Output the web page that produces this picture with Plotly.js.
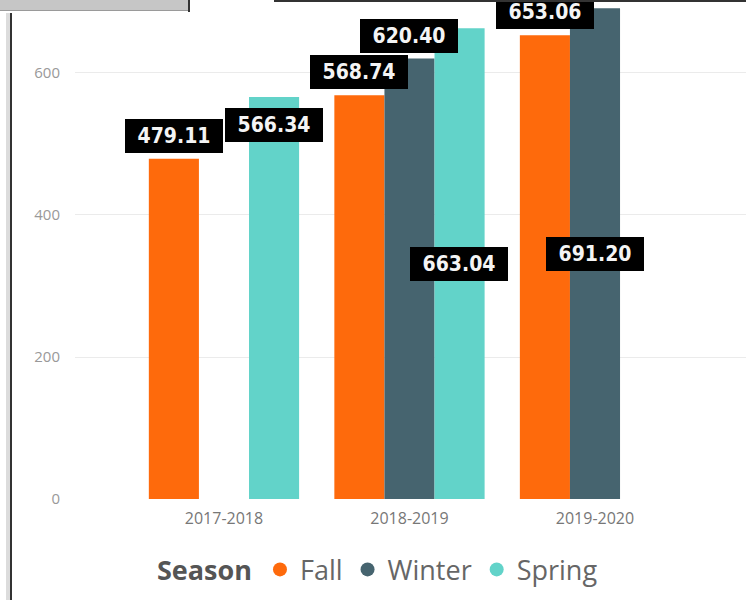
<!DOCTYPE html>
<html>
<head>
<meta charset="utf-8">
<script src="https://cdn.plot.ly/plotly-3.0.1.min.js"></script>
<style>
  html, body { margin: 0; padding: 0; background: #fff; }
  #wrap { position: relative; width: 746px; height: 600px; overflow: hidden; }
  #chart { position: absolute; left: 0; top: 0; width: 746px; height: 600px; }
  .frame { position: absolute; z-index: 10; }
</style>
</head>
<body>
<div id="wrap">
  <div id="chart"></div>
  <div class="frame" style="left:0;top:0;width:189px;height:10px;background:#c6c6c6;border-bottom:1px solid #9a9a9a;"></div>
  <div class="frame" style="left:188px;top:0;width:2px;height:12px;background:#333;"></div>
  <div class="frame" style="left:274px;top:0;width:472px;height:2px;background:#333;"></div>
  <div class="frame" style="left:6px;top:13px;width:4px;height:587px;background:#dcdcdc;"></div>
  <div class="frame" style="left:10px;top:13px;width:2px;height:587px;background:#333;"></div>
</div>
<script>
// ---- data ----
const categories = ['2017-2018', '2018-2019', '2019-2020'];
const seriesNames = ['Fall', 'Winter', 'Spring'];
const fallValues = [479.11, 568.74, 653.06];
const winterValues = [null, 620.40, 691.20];
const springValues = [566.34, 663.04, null];
const yTickValues = [0, 200, 400, 600];

// ---- styling ----
const colors = ['#FE6A0C', '#46646F', '#62D3C9'];
const seriesValues = [fallValues, winterValues, springValues];
// where Power BI placed each data label (per series, per category)
const labelPlacement = [
  ['outside', 'outside', 'outside'],
  [null, 'outside', 'center'],
  ['insideEnd', 'center', null]
];
const barPx = 50;

const traces = [];
seriesValues.forEach((vals, i) => {
  traces.push({
    type: 'bar',
    x: categories,
    y: vals,
    name: seriesNames[i],
    marker: { color: colors[i] },
    showlegend: false,
    hoverinfo: 'skip'
  });
});
// legend entries with round markers
seriesNames.forEach((n, i) => {
  traces.push({
    type: 'scatter',
    mode: 'markers',
    x: [null],
    y: [null],
    name: n,
    marker: { color: colors[i], size: 14, symbol: 'circle' },
    showlegend: true,
    hoverinfo: 'skip'
  });
});

const annotations = [];
seriesValues.forEach((vals, i) => {
  vals.forEach((v, j) => {
    const mode = labelPlacement[i][j];
    if (v === null || !mode) return;
    let y = v, yanchor = 'bottom', yshift = 6;
    if (mode === 'insideEnd') { yanchor = 'top'; yshift = -11; }
    if (mode === 'center') { y = v / 2; yanchor = 'middle'; yshift = 0; }
    annotations.push({
      x: categories[j],
      y: y,
      xref: 'x',
      yref: 'y',
      xshift: (i - 1) * barPx,
      yshift: yshift,
      xanchor: 'center',
      yanchor: yanchor,
      text: v.toFixed(2),
      showarrow: false,
      bgcolor: '#000',
      bordercolor: '#000',
      borderwidth: 1,
      borderpad: 3,
      width: 90,
      height: 26,
      font: { family: 'DejaVu Sans Condensed', size: 21, color: '#f4f4f4', weight: 'bold' }
    });
  });
});

const layout = {
  width: 746,
  height: 600,
  margin: { l: 75, r: 0, t: 0, b: 101 },
  paper_bgcolor: 'rgba(0,0,0,0)',
  plot_bgcolor: '#fff',
  barmode: 'group',
  bargap: 0.19,
  bargroupgap: 0,
  xaxis: {
    type: 'category',
    range: [-0.803, 2.814],
    showgrid: false,
    zeroline: false,
    showline: false,
    ticks: '',
    ticklabelstandoff: 8,
    tickfont: { family: 'Open Sans', size: 16, color: '#777' },
    fixedrange: true
  },
  yaxis: {
    range: [0, 702.8],
    tickvals: yTickValues,
    ticktext: yTickValues.map(String),
    showgrid: true,
    gridcolor: '#ebebeb',
    gridwidth: 1,
    zeroline: false,
    showline: false,
    ticks: '',
    ticklabelstandoff: 14,
    tickfont: { family: 'Open Sans', size: 15, color: '#999' },
    fixedrange: true
  },
  showlegend: true,
  legend: {
    orientation: 'h',
    x: 0.453,
    xanchor: 'center',
    y: -0.142,
    yanchor: 'middle',
    title: { text: '<b>Season</b>', side: 'left', font: { family: 'Open Sans', size: 27, color: '#555' } },
    font: { family: 'Open Sans', size: 27, color: '#666' },
    itemwidth: 30,
    bgcolor: 'rgba(0,0,0,0)'
  },
  annotations: annotations
};

Plotly.newPlot('chart', traces, layout, { displayModeBar: false, staticPlot: true });
</script>
</body>
</html>
